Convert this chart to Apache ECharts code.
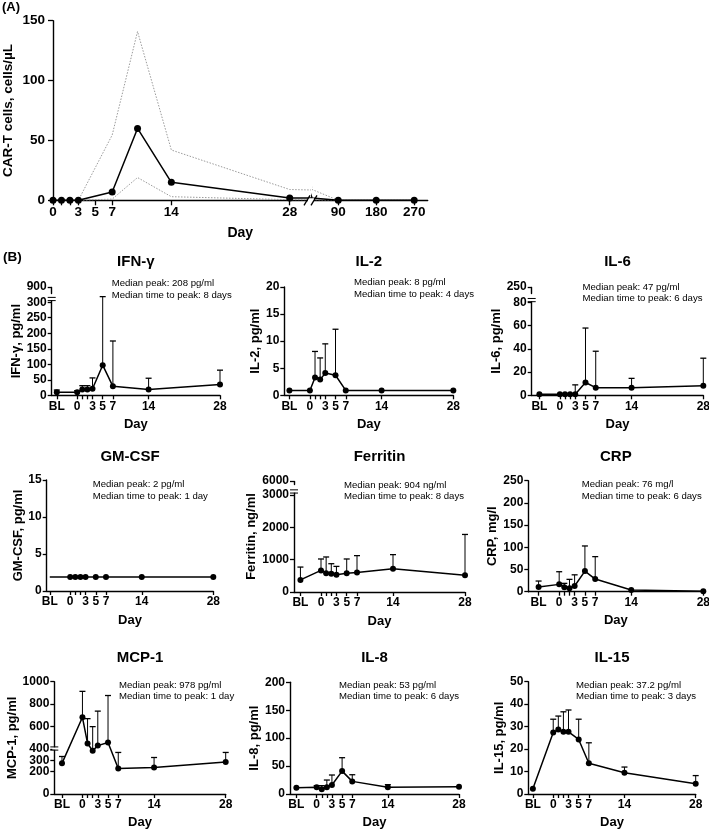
<!DOCTYPE html>
<html><head><meta charset="utf-8">
<script src="https://cdn.jsdelivr.net/npm/echarts@6/dist/echarts.min.js"></script>
<style>html,body{margin:0;padding:0;background:#fff}#c{width:709px;height:830px}</style>
</head><body><div id="c"></div>
<script>
// ================= DATA =================
// Panel A: CAR-T cells
const carDays   = [0, 1, 2, 3, 7, 10, 14, 28, 90, 180, 270];
const carMedian = [0, 0, 0, 0, 7, 60, 15, 2, 0, 0, 0];
const carUpper  = [0, 0, 0, 0, 54.5, 141, 42, 9, 0, 0, 0];
const carLower  = [0, 0, 0, 0, 1, 19, 3, 0.5, 0, 0, 0];
const carTickDaysLeft  = [0, 1, 2, 3, 5, 7, 14, 28];
const carLabelDaysLeft = [0, 3, 5, 7, 14, 28];
const carDaysRight     = [90, 180, 270];
const carYTicks        = [0, 50, 100, 150];

// Panel B: cytokines (day -4 = BL)
const cytoDays      = [-4, 0, 1, 2, 3, 5, 7, 14, 28];
const cytoTickDays  = [-4, 0, 1, 2, 3, 5, 7, 14, 28];
const cytoLabelDays = [-4, 0, 3, 5, 7, 14, 28];

const ifngMedian = [10, 10, 19, 19, 21, 97, 29, 19, 35];
const ifngUpper  = [17, 15, 31, 31, 56, 550, 175, 55, 81];
const il2Median  = [0.9, 0.9, 3.3, 2.9, 4.1, 3.7, 0.9, 0.9, 0.9];
const il2Upper   = [null, null, 8.1, 6.9, 9.5, 12.2, null, null, null];
const il6Median  = [1, 1, 1, 1, 1, 11, 6.6, 6.5, 8.3];
const il6Upper   = [null, null, null, null, 9, 58, 38, 14.6, 32];
const gmcsfMedian = [1.9, 1.9, 1.9, 1.9, 1.9, 1.9, 1.9, 1.9, 1.9];
const gmcsfUpper  = [null, null, null, null, null, null, null, null, null];
const ferritinMedian = [375, 667, 583, 563, 531, 583, 604, 719, 521];
const ferritinUpper  = [771, 1021, 1083, 875, 792, 1021, 1125, 1156, 1780];
const crpMedian = [10.5, 16.5, 9.8, 7.5, 12.8, 46.5, 28.5, 3.8, 0.8];
const crpUpper  = [24, 45, 18.8, 27.8, 38, 103, 79, null, null];
const mcp1Median = [273, 683, 450, 385, 431, 459, 227, 236, 285];
const mcp1Upper  = [334, 914, 671, 600, 738, 877, 370, 325, 370];
const il8Median = [11.3, 12, 8.3, 12, 16, 41, 22.6, 12, 13];
const il8Upper  = [null, 15, 15, 25, 34, 65, 34.5, 16.7, null];
const il15Median = [2.3, 27.4, 28.7, 27.7, 27.7, 24.3, 13.7, 9.5, 4.6];
const il15Upper  = [null, 33.3, 34.7, 36.6, 37.4, 33.3, 22.8, 12, 8.2];

const ifngTicks     = [0, 50, 100, 150, 200, 250, 300, 900];
const il2Ticks      = [0, 5, 10, 15, 20];
const il6Ticks      = [0, 20, 40, 60, 80, 250];
const gmcsfTicks    = [0, 5, 10, 15];
const ferritinTicks = [0, 1000, 2000, 3000, 6000];
const crpTicks      = [0, 50, 100, 150, 200, 250];
const mcp1Ticks     = [0, 100, 200, 300, 400, 600, 800, 1000];
const il8Ticks      = [0, 50, 100, 150, 200];
const il15Ticks     = [0, 10, 20, 30, 40, 50];

// axis breaks [start, end, gap] (null = none)
const ifngBreak     = [310, 880, 19];
const il6Break      = [82, 245, 6.4];
const ferritinBreak = [3100, 5900, 233];
const mcp1BreakMark = 405;

const cytoTitles = ['IFN-γ', 'IL-2', 'IL-6', 'GM-CSF', 'Ferritin', 'CRP', 'MCP-1', 'IL-8', 'IL-15'];
const cytoYNames = ['IFN-γ, pg/ml', 'IL-2, pg/ml', 'IL-6, pg/ml', 'GM-CSF, pg/ml', 'Ferritin, ng/ml', 'CRP, mg/l', 'MCP-1, pg/ml', 'IL-8, pg/ml', 'IL-15, pg/ml'];
const peakNotes = ['Median peak: 208 pg/ml', 'Median peak: 8 pg/ml', 'Median peak: 47 pg/ml', 'Median peak: 2 pg/ml', 'Median peak: 904 ng/ml', 'Median peak: 76 mg/l', 'Median peak: 978 pg/ml', 'Median peak: 53 pg/ml', 'Median peak: 37.2 pg/ml'];
const timeNotes = ['Median time to peak: 8 days', 'Median time to peak: 4 days', 'Median time to peak: 6 days', 'Median time to peak: 1 day', 'Median time to peak: 8 days', 'Median time to peak: 6 days', 'Median time to peak: 1 day', 'Median time to peak: 6 days', 'Median time to peak: 3 days'];

// ================= LAYOUT / STYLE =================
const FONT = '"Liberation Sans", Arial, Helvetica, sans-serif';
const cyto = [
  {med: ifngMedian, up: ifngUpper, ticks: ifngTicks, brk: ifngBreak},
  {med: il2Median, up: il2Upper, ticks: il2Ticks, brk: null},
  {med: il6Median, up: il6Upper, ticks: il6Ticks, brk: il6Break},
  {med: gmcsfMedian, up: gmcsfUpper, ticks: gmcsfTicks, brk: null, hideBL: true},
  {med: ferritinMedian, up: ferritinUpper, ticks: ferritinTicks, brk: ferritinBreak},
  {med: crpMedian, up: crpUpper, ticks: crpTicks, brk: null},
  {med: mcp1Median, up: mcp1Upper, ticks: mcp1Ticks, brk: null, mark: mcp1BreakMark},
  {med: il8Median, up: il8Upper, ticks: il8Ticks, brk: null},
  {med: il15Median, up: il15Upper, ticks: il15Ticks, brk: null}
];
const lay = [
  {left: 51.7, top: 287, width: 168.3, height: 108.3, xmin: -5,   gy: 22,   gx: 23,   ty: 262, note: [111.7, 283.5]},
  {left: 284.3, top: 287, width: 169,  height: 108.3, xmin: -5,   gy: 18,   gx: 23,   ty: 262, note: [354, 282.7]},
  {left: 531.7, top: 287, width: 171.6, height: 108.3, xmin: -5.5, gy: 22,  gx: 23,   ty: 262, note: [582.5, 287]},
  {left: 46.7, top: 480, width: 166.6, height: 111,   xmin: -4.6, gy: 22,   gx: 22.5, ty: 457, note: [92.7, 484.3]},
  {left: 294,  top: 481, width: 171,   height: 111,   xmin: -5.25, gy: 29, gx: 22.5, ty: 457, note: [344, 485]},
  {left: 528.3, top: 480.7, width: 175, height: 111,  xmin: -6,   gy: 18,   gx: 22.5, ty: 457, note: [581.7, 484.3]},
  {left: 54.3, top: 681.7, width: 171.4, height: 112.3, xmin: -5.5, gy: 29.5, gx: 22, ty: 658, note: [119, 685]},
  {left: 290,  top: 682.3, width: 169,  height: 111.7, xmin: -5.25, gy: 25, gx: 22,   ty: 658, note: [339, 685]},
  {left: 528.3, top: 681.7, width: 167.4, height: 112.3, xmin: -4.9, gy: 18, gx: 22,   ty: 658, note: [576, 685]}
];

function axisBase(fs, tickLen) {
  return {
    axisLine: {show: true, onZero: false, lineStyle: {color: '#000', width: 1.4}},
    axisTick: {show: true, inside: false, length: tickLen, lineStyle: {color: '#000', width: 1.3}},
    axisLabel: {color: '#000', fontWeight: 'bold', fontSize: fs, fontFamily: FONT, hideOverlap: false,
      showMinLabel: true, showMaxLabel: true, formatter: v => String(v)},
    splitLine: {show: false}
  };
}
function deepMerge(a, b) {
  for (const k in b) {
    if (b[k] && typeof b[k] === 'object' && !Array.isArray(b[k]) && a[k] && typeof a[k] === 'object') deepMerge(a[k], b[k]);
    else a[k] = b[k];
  }
  return a;
}
function txt(x, y, text, font, align) {
  return {type: 'text', x: x, y: y, silent: true,
    style: {text: text, font: font, fill: '#000', textAlign: align, textVerticalAlign: 'middle', align: align, verticalAlign: 'middle'}};
}

const option = {
  animation: false,
  backgroundColor: '#fff',
  textStyle: {fontFamily: FONT},
  grid: [], xAxis: [], yAxis: [], series: [], graphic: []
};

// ---- Panel A ----
option.grid.push({left: 53, top: 20.7, width: 257, height: 179.6, outerBoundsMode: 'none'});
option.grid.push({left: 312.5, top: 20.7, width: 115.2, height: 179.6, outerBoundsMode: 'none'});
option.xAxis.push(deepMerge(axisBase(13.5, 5), {
  type: 'value', gridIndex: 0, min: 0, max: 30.4,
  axisTick: {customValues: carTickDaysLeft},
  axisLabel: {customValues: carLabelDaysLeft, margin: 5}
}));
option.xAxis.push(deepMerge(axisBase(13.5, 5), {
  type: 'value', gridIndex: 1, min: 29, max: 302,
  axisTick: {customValues: carDaysRight},
  axisLabel: {customValues: carDaysRight, margin: 5}
}));
option.yAxis.push(deepMerge(axisBase(13.5, 5), {
  type: 'value', gridIndex: 0, min: 0, max: 150,
  axisTick: {customValues: carYTicks},
  axisLabel: {customValues: carYTicks, margin: 8},
  name: 'CAR-T cells, cells/µL', nameLocation: 'middle', nameRotate: 90, nameGap: 38,
  nameTextStyle: {color: '#000', fontWeight: 'bold', fontSize: 13.5, fontFamily: FONT}
}));
option.yAxis.push({type: 'value', gridIndex: 1, min: 0, max: 150, show: false});

function carPair(i) { return carDays.map((d, k) => [d, i[k]]); }
[0, 1].forEach(gi => {
  option.series.push({type: 'line', xAxisIndex: gi, yAxisIndex: gi, data: carPair(carUpper), symbol: 'none',
    clip: true, lineStyle: {color: '#9a9a9a', width: 1, type: [1.5, 1.5]}, z: 2, silent: true});
  option.series.push({type: 'line', xAxisIndex: gi, yAxisIndex: gi, data: carPair(carLower), symbol: 'none',
    clip: true, lineStyle: {color: '#9a9a9a', width: 1, type: [1.5, 1.5]}, z: 2, silent: true});
  option.series.push({type: 'line', xAxisIndex: gi, yAxisIndex: gi, data: carPair(carMedian), symbol: 'circle',
    symbolSize: 7, clip: true, itemStyle: {color: '#000'}, lineStyle: {color: '#000', width: 1.5}, z: 3, silent: true});
});

// ---- Panel B ----
cyto.forEach((c, i) => {
  const L = lay[i];
  const gi = i + 2;
  option.grid.push({left: L.left, top: L.top, width: L.width, height: L.height, outerBoundsMode: 'none'});
  option.xAxis.push(deepMerge(axisBase(12, 4), {
    type: 'value', gridIndex: gi, min: L.xmin, max: 28,
    axisTick: {customValues: cytoTickDays},
    axisLabel: {customValues: cytoLabelDays, margin: 5, formatter: v => (v === -4 ? 'BL' : String(v))},
    name: 'Day', nameLocation: 'middle', nameGap: L.gx,
    nameTextStyle: {color: '#000', fontWeight: 'bold', fontSize: 13, fontFamily: FONT}
  }));
  const ya = deepMerge(axisBase(12, 4), {
    type: 'value', gridIndex: gi, min: 0, max: c.ticks[c.ticks.length - 1],
    axisTick: {customValues: c.ticks},
    axisLabel: {customValues: c.ticks, margin: 5},
    name: cytoYNames[i], nameLocation: 'middle', nameRotate: 90, nameGap: L.gy,
    nameTextStyle: {color: '#000', fontWeight: 'bold', fontSize: 13, fontFamily: FONT}
  });
  if (c.brk) {
    ya.breaks = [{start: c.brk[0], end: c.brk[1], gap: c.brk[2]}];
    ya.breakArea = {show: false};
  }
  option.yAxis.push(ya);

  const errData = [];
  cytoDays.forEach((d, k) => { if (c.up[k] != null) errData.push([d, c.med[k], c.up[k]]); });
  option.series.push({
    type: 'custom', xAxisIndex: gi, yAxisIndex: gi, data: errData, z: 2, silent: true,
    encode: {x: 0, y: [1, 2]},
    renderItem(params, api) {
      const x = api.value(0);
      const p1 = api.coord([x, api.value(1)]);
      const p2 = api.coord([x, api.value(2)]);
      return {type: 'group', children: [
        {type: 'line', shape: {x1: p1[0], y1: p1[1], x2: p2[0], y2: p2[1]}, style: {stroke: '#000', lineWidth: 1}},
        {type: 'line', shape: {x1: p2[0] - 3, y1: p2[1], x2: p2[0] + 3, y2: p2[1]}, style: {stroke: '#000', lineWidth: 1.3}}
      ]};
    }
  });
  option.series.push({
    type: 'line', xAxisIndex: gi, yAxisIndex: gi, z: 3, silent: true,
    data: cytoDays.map((d, k) => (c.hideBL && k === 0) ? {value: [d, c.med[k]], symbolSize: 0} : [d, c.med[k]]),
    symbol: 'circle', symbolSize: 6, itemStyle: {color: '#000'}, lineStyle: {color: '#000', width: 1.5}
  });

  option.graphic.push(txt(L.left + L.width / 2, L.ty, cytoTitles[i], 'bold 15px ' + FONT, 'center'));
  option.graphic.push(txt(L.note[0], L.note[1], peakNotes[i], '9.6px ' + FONT, 'left'));
  option.graphic.push(txt(L.note[0], L.note[1] + 11.6, timeNotes[i], '9.6px ' + FONT, 'left'));
});

option.graphic.push(txt(2, 7, '(A)', 'bold 13px ' + FONT, 'left'));
option.graphic.push(txt(3, 257, '(B)', 'bold 13.5px ' + FONT, 'left'));
option.graphic.push(txt(240.3, 233, 'Day', 'bold 14px ' + FONT, 'center'));

const chart = echarts.init(document.getElementById('c'));
chart.setOption(option);

// break marks placed through the axes' own scales
const extra = [];
const pA = chart.convertToPixel({xAxisIndex: 0, yAxisIndex: 0}, [30.4, 0]);
extra.push({type: 'rect', shape: {x: pA[0] - 2, y: pA[1] - 2, width: 6, height: 4}, style: {fill: '#fff'}, z: 100, silent: true});
extra.push({type: 'line', shape: {x1: pA[0] - 6, y1: pA[1] + 5, x2: pA[0] + 0, y2: pA[1] - 5}, style: {stroke: '#000', lineWidth: 1.3}, z: 101, silent: true});
extra.push({type: 'line', shape: {x1: pA[0] + 1, y1: pA[1] + 5, x2: pA[0] + 7, y2: pA[1] - 5}, style: {stroke: '#000', lineWidth: 1.3}, z: 101, silent: true});
cyto.forEach((c, i) => {
  const v = c.brk ? c.brk[0] + c.brk[2] / 2 : c.mark;
  if (v == null) return;
  const gi = i + 2;
  const p = chart.convertToPixel({xAxisIndex: gi, yAxisIndex: gi}, [lay[i].xmin, v]);
  extra.push({type: 'rect', shape: {x: p[0] - 2, y: p[1] - 1.2, width: 4, height: 2.4}, style: {fill: '#fff'}, z: 100, silent: true});
  extra.push({type: 'line', shape: {x1: p[0] - 4, y1: p[1] - 1.6, x2: p[0] + 4, y2: p[1] - 1.6}, style: {stroke: '#000', lineWidth: 1}, z: 101, silent: true});
  extra.push({type: 'line', shape: {x1: p[0] - 4, y1: p[1] + 1.6, x2: p[0] + 4, y2: p[1] + 1.6}, style: {stroke: '#000', lineWidth: 1}, z: 101, silent: true});
});
chart.setOption({graphic: option.graphic.concat(extra)});
</script>
</body></html>
